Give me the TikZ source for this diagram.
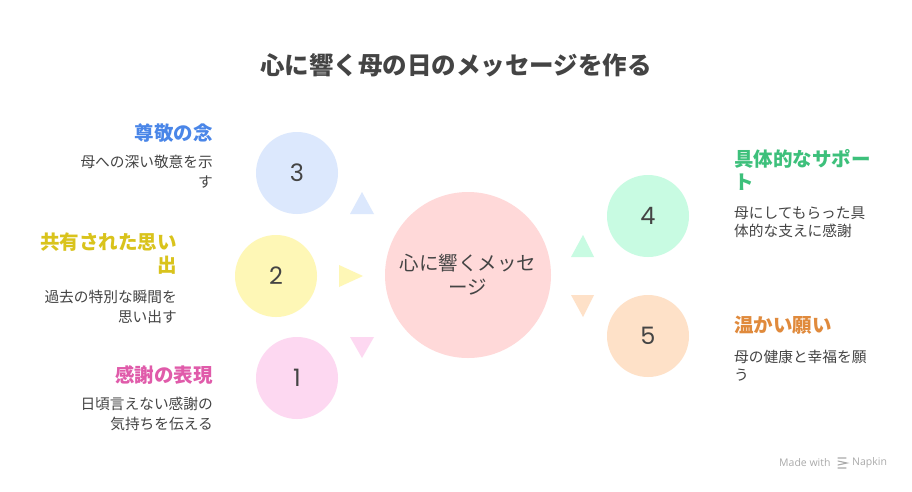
\documentclass[tikz,border=0pt]{standalone}
\usepackage{fontspec}
\setmainfont{Noto Sans CJK JP}
\newfontfamily\numfont{Poppins}
\newfontfamily\latinfont{Open Sans}
\definecolor{txt}{HTML}{444444}
\definecolor{cmain}{HTML}{FFD9D9}
\definecolor{cblue}{HTML}{DCE8FD}
\definecolor{cyellow}{HTML}{FEF7B6}
\definecolor{cpink}{HTML}{FDD8F1}
\definecolor{cgreen}{HTML}{C8FBE2}
\definecolor{corange}{HTML}{FEE1C8}
\definecolor{tblue}{HTML}{4A86E8}
\definecolor{tyellow}{HTML}{D9C31C}
\definecolor{tpink}{HTML}{E05BAA}
\definecolor{tgreen}{HTML}{3DC07B}
\definecolor{torange}{HTML}{E08A3C}
\definecolor{wm}{HTML}{AAAAAA}
\begin{document}
\begin{tikzpicture}[x=1pt,y=-1pt,
  bubble/.style={circle,minimum size=82pt,inner sep=0pt,text=txt,font=\numfont\fontsize{24}{24}\selectfont},
  headR/.style={anchor=east,align=right,inner sep=0pt,font=\bfseries\fontsize{19.5}{23}\selectfont},
  headL/.style={anchor=west,align=left,inner sep=0pt,font=\bfseries\fontsize{19.5}{23}\selectfont},
  descR/.style={anchor=north east,align=right,inner sep=0pt,text=txt,font=\fontsize{14.7}{19.5}\selectfont},
  descL/.style={anchor=north west,align=left,inner sep=0pt,text=txt,font=\fontsize{14.7}{18}\selectfont},
  tri/.style={draw=none}]
\useasboundingbox (0,0) rectangle (912,491);
\fill[white] (0,0) rectangle (912,491);
% title
\node[text=txt,font=\bfseries\fontsize{24.5}{26}\selectfont] (title) at (456,65) {心に響く母の日のメッセージを作る};
% central
\node[circle,fill=cmain,minimum size=166pt,inner sep=0pt,align=center,text=txt,font=\fontsize{19.5}{24}\selectfont] (c) at (468,275) {心に響くメッセ\\ージ};
% small circles
\node[bubble,fill=cblue] (n3) at (297,173) {3};
\node[bubble,fill=cyellow] (n2) at (276,276) {2};
\node[bubble,fill=cpink] (n1) at (297,378) {1};
\node[bubble,fill=cgreen] (n4) at (648,216) {4};
\node[bubble,fill=corange] (n5) at (648,336) {5};
% triangles
\fill[cblue] (362,192) -- (374,214) -- (350,214) -- cycle;
\fill[cyellow] (363,276) -- (339,265) -- (339,287) -- cycle;
\fill[cpink] (350,337) -- (374,337) -- (362,358) -- cycle;
\fill[cgreen] (583,235) -- (594,257) -- (571,257) -- cycle;
\fill[corange] (571,295) -- (594,295) -- (583,317) -- cycle;
% left texts
\node[headR,text=tblue] (h3) at (213,133) {尊敬の念};
\node[descR] (d3) at (213,155) {母への深い敬意を示\\す};
\node[headR,text=tyellow] (h2) at (177,254) {共有された思い\\出};
\node[descR] (d2) at (177,290) {過去の特別な瞬間を\\思い出す};
\node[headR,text=tpink] (h1) at (213,375) {感謝の表現};
\node[descR] (d1) at (213,397) {日頃言えない感謝の\\気持ちを伝える};
% right texts
\node[headL,text=tgreen] (h4) at (734,170) {具体的なサポー\\ト};
\node[descL] (d4) at (734,207) {母にしてもらった具\\体的な支えに感謝};
\node[headL,text=torange] (h5) at (734,325) {温かい願い};
\node[descL] (d5) at (734,350) {母の健康と幸福を願\\う};
% watermark
\node[anchor=west,inner sep=0pt,text=wm,font=\latinfont\fontsize{10.5}{12}\selectfont] (wm1) at (779,463) {Made with};
\node[anchor=west,inner sep=0pt,text=wm,font=\latinfont\fontsize{10.5}{12}\selectfont] (wm2) at (852,463) {Napkin};
\draw[wm,line width=1.1pt,line cap=round] (838,458) -- (846,458) (838,461) -- (847,463) -- (838,465) (838,468) -- (846,468);
\end{tikzpicture}
\end{document}
